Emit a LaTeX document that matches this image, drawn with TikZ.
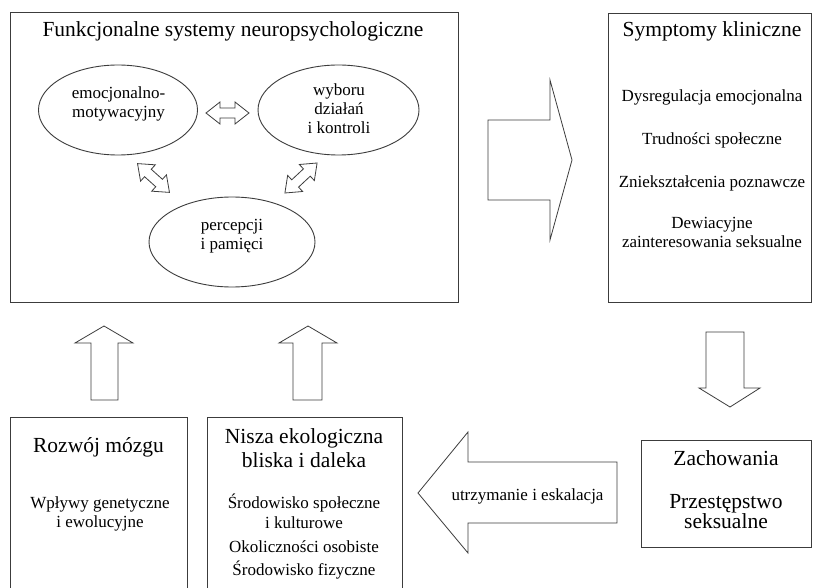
\documentclass[tikz,border=0pt]{standalone}
\usepackage{fontspec}
\setmainfont{Liberation Serif}
\usepackage{xcolor}
\usetikzlibrary{shapes.geometric,positioning,calc}
\definecolor{linegray}{RGB}{60,60,60}

\newcommand{\bodyfont}{\fontsize{17}{19}\selectfont}
\newcommand{\headfont}{\fontsize{21.5}{24}\selectfont}
% double block arrow: x, y, angle, length
\newcommand{\twoway}[4]{%
  \begin{scope}[shift={(#1,#2)}, rotate=#3]
    \draw[blockarrow] (-#4/2,0) -- (-#4/2+14,11) -- (-#4/2+14,5) -- (#4/2-14,5) -- (#4/2-14,11)
      -- (#4/2,0) -- (#4/2-14,-11) -- (#4/2-14,-5) -- (-#4/2+14,-5) -- (-#4/2+14,-11) -- cycle;
  \end{scope}}

\begin{document}
\begin{tikzpicture}[
    x=1pt, y=1pt,
    box/.style={rectangle, draw=linegray, line width=0.9pt, inner sep=0pt},
    oval/.style={ellipse, draw=linegray, line width=0.9pt, inner sep=0pt, minimum height=90pt},
    head/.style={font=\headfont, anchor=base, align=center, inner sep=0pt},
    txt/.style={font=\bodyfont, anchor=base, align=center, inner sep=0pt},
    blockarrow/.style={draw=linegray, line width=0.8pt, fill=white, line join=miter}
]
    \clip (0,0) rectangle (813,587);
    \fill[white] (0,0) rectangle (813,587);

    % Top left: functional systems
    \node[box, minimum width=448pt, minimum height=290pt] (funk) at (234,430) {};
    \node[head] (funktitle) at (233,550) {Funkcjonalne systemy neuropsychologiczne};

    \node[oval, minimum width=159pt] (emo) at (118,477) {};
    \node[txt] (emotxt) at (118.5,469) {emocjonalno-\\motywacyjny};
    \node[oval, minimum width=161pt] (wyb) at (338.5,477) {};
    \node[txt] (wybtxt) at (339,453) {wyboru\\działań\\i kontroli};
    \node[oval, minimum width=166pt] (perc) at (232,345) {};
    \node[txt] (perctxt) at (232,337) {percepcji\\[1pt]i pamięci};

    \twoway{227.5}{474}{0}{43}
    \twoway{153.5}{409}{-42}{43}
    \twoway{301}{409}{43}{44}

    % Top right: symptoms
    \node[box, minimum width=203.5pt, minimum height=289pt] (sym) at (709.75,429.5) {};
    \node[head] (symtitle) at (712,550) {Symptomy kliniczne};
    \node[txt] (sym1) at (712,485) {Dysregulacja emocjonalna};
    \node[txt] (sym2) at (712,442) {Trudności społeczne};
    \node[txt] (sym3) at (712,399) {Zniekształcenia poznawcze};
    \node[txt] (sym4) at (712,339) {Dewiacyjne\\zainteresowania seksualne};

    % Bottom: brain and niche
    \node[box, minimum width=177pt, minimum height=180pt] (mozg) at (98.5,80) {};
    \node[head] (mozgtitle) at (98.5,135) {Rozwój mózgu};
    \node[txt] (mozgtxt) at (100,60) {Wpływy genetyczne\\i ewolucyjne};

    \node[box, minimum width=195pt, minimum height=180pt] (nisza) at (304.5,80) {};
    \node[head] (niszatitle) at (304,120) {Nisza ekologiczna\\bliska i daleka};
    \node[txt] (niszatxt) at (304,12) {Środowisko społeczne\\[1pt]i kulturowe\\[5pt]Okoliczności osobiste\\[4pt]Środowisko fizyczne};

    % Bottom right: behaviour
    \node[box, minimum width=170.5pt, minimum height=107pt] (zach) at (726.25,93.5) {};
    \node[head] (zachtitle) at (726,122) {Zachowania};
    \node[head] (zachtxt) at (726,59) {Przestępstwo\\[-4pt]seksualne};

    % Block arrows
    \draw[blockarrow] (488,467) -- (550,467) -- (550,507) -- (572,427) -- (550,347) -- (550,387) -- (488,387) -- cycle;
    \draw[blockarrow] (706,255) -- (706,199) -- (699,199) -- (730,180) -- (760,199) -- (744,199) -- (744,255) -- cycle;
    \draw[blockarrow] (617,125) -- (468,125) -- (468,155) -- (418,94) -- (468,34) -- (468,64) -- (617,64) -- cycle;
    \node[txt] (eskal) at (527.5,87) {utrzymanie i eskalacja};
    \draw[blockarrow] (91,187) -- (91,244) -- (75,244) -- (104,261) -- (133,244) -- (118,244) -- (118,187) -- cycle;
    \draw[blockarrow] (293,187) -- (293,244) -- (279,244) -- (308,261) -- (337,244) -- (322,244) -- (322,187) -- cycle;
\end{tikzpicture}
\end{document}
